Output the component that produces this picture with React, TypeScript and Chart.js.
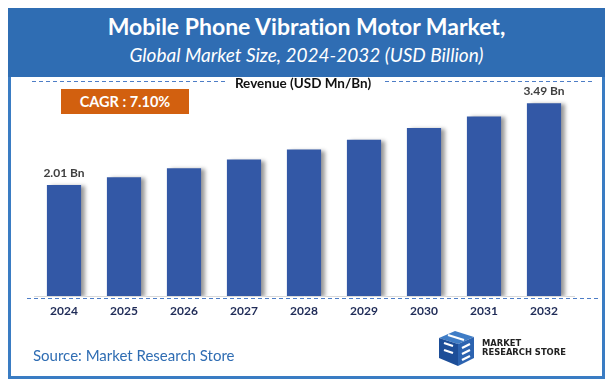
import React, { useEffect, useRef } from "react";
import { Chart, registerables } from "chart.js";

Chart.register(...registerables);

const years = ["2024", "2025", "2026", "2027", "2028", "2029", "2030", "2031", "2032"];
const revenue = [2.01, 2.15, 2.31, 2.47, 2.65, 2.83, 3.04, 3.25, 3.49];
const labelled: Record<number, string> = { 0: "2.01 Bn", 8: "3.49 Bn" };
const titleText = "Mobile Phone Vibration Motor Market,";
const subtitleText = "Global Market Size, 2024-2032 (USD Billion)";
const axisTitle = "Revenue (USD Mn/Bn)";
const cagrText = "CAGR : 7.10%";
const sourceText = "Source: Market Research Store";

const FONT = "Lato, 'Open Sans', sans-serif";

export default function App() {
  const ref = useRef<HTMLCanvasElement | null>(null);

  useEffect(() => {
    document.body.style.margin = "0";
    if (!ref.current) return;

    const shadowPlugin = {
      id: "barShadow",
      beforeDatasetsDraw(chart: any) {
        const ctx = chart.ctx;
        ctx.save();
        ctx.shadowColor = "rgba(0,0,0,0.4)";
        ctx.shadowOffsetX = 4;
        ctx.shadowOffsetY = 1;
        ctx.shadowBlur = 4;
      },
      afterDatasetsDraw(chart: any) {
        chart.ctx.restore();
      },
    };

    const decorPlugin = {
      id: "decor",
      afterDraw(chart: any) {
        const ctx = chart.ctx;
        const meta = chart.getDatasetMeta(0);
        ctx.save();
        ctx.font = `bold 12px ${FONT}`;
        ctx.fillStyle = "#404040";
        ctx.textAlign = "center";
        ctx.textBaseline = "bottom";
        meta.data.forEach((bar: any, i: number) => {
          if (labelled[i]) ctx.fillText(labelled[i], bar.x, bar.y - 6);
        });
        // dashed lines
        ctx.strokeStyle = "#4D7DC6";
        ctx.lineWidth = 1;
        ctx.setLineDash([4, 3]);
        const bottom = chart.chartArea.bottom;
        ctx.beginPath();
        ctx.moveTo(27, bottom + 2.5);
        ctx.lineTo(600, bottom + 2.5);
        ctx.moveTo(32, 81.5);
        ctx.lineTo(226, 81.5);
        ctx.moveTo(385, 81.5);
        ctx.lineTo(595, 81.5);
        ctx.stroke();
        ctx.restore();
      },
    };

    const chart = new Chart(ref.current, {
      type: "bar",
      data: {
        labels: years,
        datasets: [
          {
            data: revenue,
            backgroundColor: "#3358A6",
            borderWidth: 0,
            barPercentage: 0.57,
            categoryPercentage: 1,
          },
        ],
      },
      options: {
        animation: false,
        responsive: false,
        maintainAspectRatio: false,
        devicePixelRatio: 1,
        layout: { padding: { left: 34, right: 39, top: 75, bottom: 62 } },
        plugins: {
          legend: { display: false },
          tooltip: { enabled: false },
          title: { display: false },
        },
        scales: {
          y: { display: false, min: 0, max: 4 },
          x: {
            grid: { display: false, drawTicks: false },
            border: { display: true, color: "#D9D9D9", width: 1 },
            ticks: {
              color: "#1F2B57",
              font: { family: FONT, size: 12, weight: "bold" },
              padding: 8,
            },
            afterFit(scale: any) {
              scale.height = 30;
            },
          },
        },
      },
      plugins: [shadowPlugin, decorPlugin],
    } as any);

    return () => chart.destroy();
  }, []);

  return (
    <div style={{ position: "relative", width: 613, height: 388, background: "#fff", overflow: "hidden", fontFamily: FONT, fontVariantLigatures: "none" }}>
      <div
        style={{
          position: "absolute",
          left: 8,
          top: 8,
          width: 597,
          height: 371,
          border: "3px solid #3A7CC3",
          boxSizing: "border-box",
        }}
      />
      <div
        style={{
          position: "absolute",
          left: 8,
          top: 8,
          width: 597,
          height: 69,
          background: "#2F6DB3",
          color: "#fff",
          textAlign: "center",
        }}
      >
        <div style={{ position: "absolute", left: 0, right: 0, top: 4, fontSize: 23, fontWeight: "bold", lineHeight: "28px" }}>
          {titleText}
        </div>
        <div style={{ position: "absolute", left: 0, right: 0, top: 35, fontSize: 19, fontStyle: "italic", lineHeight: "24px" }}>
          {subtitleText}
        </div>
      </div>
      <canvas ref={ref} width={613} height={388} style={{ position: "absolute", left: 0, top: 0, width: 613, height: 388 }} />
      <div
        style={{
          position: "absolute",
          left: 203,
          width: 200,
          top: 75,
          textAlign: "center",
          fontSize: 13.5,
          fontWeight: "bold",
          color: "#111",
          lineHeight: "17px",
        }}
      >
        {axisTitle}
      </div>
      <div
        style={{
          position: "absolute",
          left: 61,
          top: 89,
          width: 128,
          height: 25,
          background: "#D2600F",
          color: "#fff",
          fontSize: 14.5,
          fontWeight: "bold",
          textAlign: "center",
          lineHeight: "25px",
        }}
      >
        {cagrText}
      </div>
      <div style={{ position: "absolute", left: 33, top: 345, fontSize: 15, color: "#2F6DB3", lineHeight: "20px" }}>
        {sourceText}
      </div>
      <svg style={{ position: "absolute", left: 436, top: 329 }} width={42} height={38} viewBox="0 0 42 38">
        <polygon points="3,9 19,2 38,8 22,15" fill="#3F7DC6" />
        <polygon points="3,9 22,15 22,37 3,29" fill="#1D4E98" />
        <polygon points="22,15 38,8 38,29 22,37" fill="#2C63B0" />
        <path d="M12,6 L28,11 M8,14 L17,17 M8,21 L17,24 M26,19 L34,15 M26,25 L34,21 M26,31 L34,27" stroke="#fff" strokeWidth={2.2} />
      </svg>
      <div
        style={{
          position: "absolute",
          left: 482,
          top: 339,
          fontFamily: "'Liberation Sans Narrow', 'DejaVu Sans Condensed', sans-serif",
          fontWeight: "bold",
          fontSize: 9.3,
          lineHeight: "8.5px",
          color: "#222",
        }}
      >
        MARKET
        <br />
        RESEARCH STORE
      </div>
    </div>
  );
}
